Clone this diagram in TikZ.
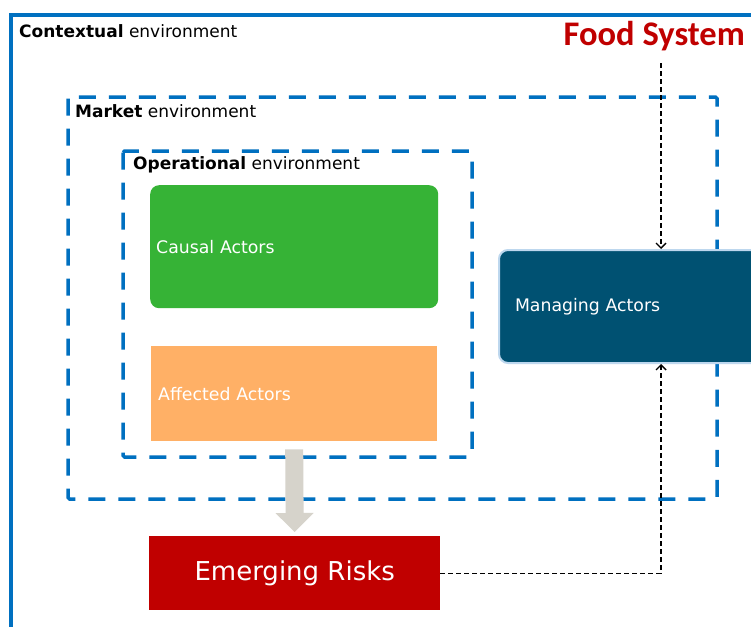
\documentclass[tikz,border=0pt]{standalone}
\usepackage{fontspec}
\setmainfont{DejaVu Sans}
\newfontfamily\foodfont{Carlito}
\usetikzlibrary{arrows.meta}
\usetikzlibrary{positioning}

\definecolor{envblue}{RGB}{0,112,192}
\definecolor{causalgreen}{RGB}{54,179,54}
\definecolor{affectedorange}{RGB}{255,176,102}
\definecolor{managingblue}{RGB}{0,81,114}
\definecolor{managingedge}{RGB}{189,215,238}
\definecolor{riskred}{RGB}{192,0,0}
\definecolor{flowgray}{RGB}{214,211,203}

\begin{document}
\begin{tikzpicture}[x=1pt,y=-1pt,
      envlabel/.style={anchor=west,inner sep=0pt,font=\fontsize{17}{19}\selectfont},
      envbox/.style={draw=envblue,line width=3.5pt,dash pattern=on 17pt off 13pt,rounded corners=1.5pt},
      actor/.style={anchor=north west,inner ysep=0pt,align=left,text=white,
        font=\fontsize{17.3}{19}\selectfont},
      link/.style={draw=black,line width=1.4pt,dash pattern=on 5pt off 3pt,
        -{Straight Barb[length=5pt,width=10pt]}},
      flow/.style={draw=flowgray,line width=18pt,-{Triangle[length=19pt,width=37pt]}},
    ]
    \clip (0,0) rectangle (751,626);
    \fill[white] (0,0) rectangle (751,626);
    % environments
    \draw[envblue,line width=3.5pt] (11,15) rectangle (770,660);
    \node[envlabel] (context) at (19,31) {\textbf{Contextual} environment};
    \draw[envbox] (68,97) rectangle (717,499);
    \node[envlabel] (market) at (75,111) {\textbf{Market} environment};
    \draw[envbox] (123,151) rectangle (472,457);
    \node[envlabel] (operational) at (133,165) {\textbf{Operational} environment};
    \node[anchor=east,inner sep=0pt,text=riskred,font=\foodfont\bfseries\fontsize{34.5}{38}\selectfont]
        (food) at (745,36) {Food System};
    % actors
    \node[actor,fill=causalgreen,rounded corners=9pt,minimum height=123pt,
        text width=276pt,inner xsep=6pt] (causal) at (150,185) {Causal Actors};
    \node[actor,fill=affectedorange,minimum height=95pt,
        text width=272pt,inner xsep=7pt] (affected) at (151,346) {Affected Actors};
    \node[actor,fill=managingblue,draw=managingedge,line width=2pt,rounded corners=9pt,
        minimum height=113pt,text width=230pt,inner xsep=16pt] (managing) at (498,249) {Managing Actors};
    \node[anchor=north west,fill=riskred,text=white,minimum width=291pt,minimum height=74pt,
        font=\fontsize{26}{30}\selectfont] (risk) at (149,536) {Emerging Risks};
    % links
    \coordinate (drop) at (661,63);
    \draw[flow] ([yshift=-8pt]affected.south) -- ([yshift=4pt]risk.north);
    \draw[link] (drop) -- (drop |- managing.north);
    \draw[link] (risk.east) -| (drop |- managing.south);
\end{tikzpicture}
\end{document}
